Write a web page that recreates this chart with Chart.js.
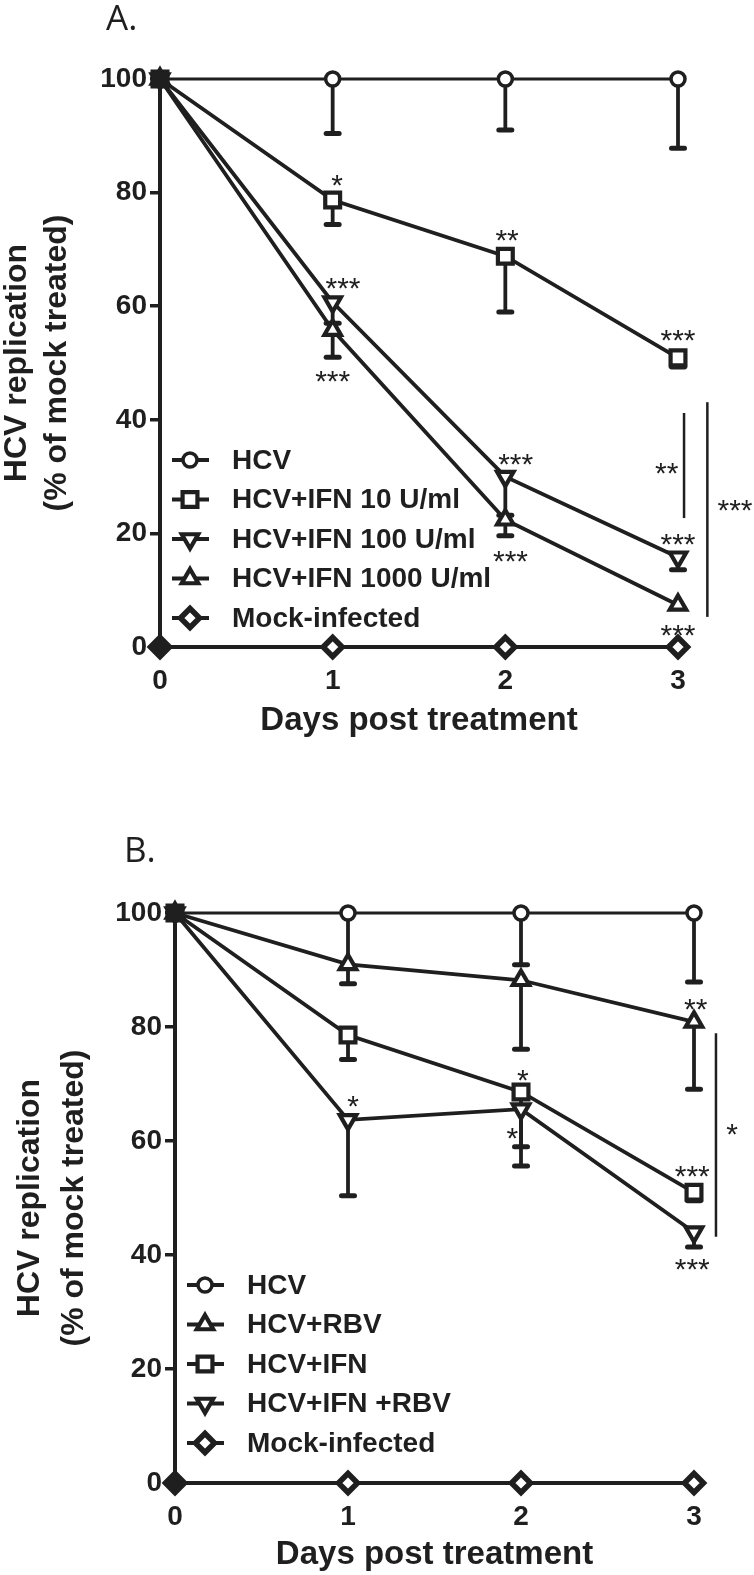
<!DOCTYPE html>
<html><head><meta charset="utf-8">
<script src="https://cdn.jsdelivr.net/npm/chart.js@4.4.1/dist/chart.umd.min.js"></script>
<style>
html,body{margin:0;padding:0;background:#fff;}
body{width:754px;height:1575px;position:relative;overflow:hidden;}
.panel{position:absolute;left:0;width:754px;}
#pa{top:0;height:780px;}
#pb{top:780px;height:795px;}
</style></head><body>
<div class="panel" id="pa"><canvas id="ca"></canvas></div>
<div class="panel" id="pb"><canvas id="cb"></canvas></div>
<script>
// ---------------- DATA ----------------
const days = [0, 1, 2, 3];

// Panel A
const aLabels = ['HCV', 'HCV+IFN 10 U/ml', 'HCV+IFN 100 U/ml', 'HCV+IFN 1000 U/ml', 'Mock-infected'];
const aHCV        = [100, 100, 100, 100];
const aHCVErr     = [null, 90.4, 91.0, 87.8];
const aIFN10      = [100, 78.7, 68.8, 50.9];
const aIFN10Err   = [null, 74.4, 59.0, 49.3];
const aIFN100     = [100, 60.7, 30.0, 15.8];
const aIFN100Err  = [null, 57.0, 23.2, 13.6];
const aIFN1000    = [100, 55.8, 22.4, 7.4];
const aIFN1000Err = [null, 51.0, 19.6, null];
const aMock       = [0, 0, 0, 0];
// significance marks: [day, value, text]
const aStars = [
  [1.025, 82.6, '*'], [1.06, 64.6, '***'], [1.0, 48.2, '***'],
  [2.01, 72.9, '**'], [2.06, 33.5, '***'], [2.03, 16.4, '***'],
  [3.0, 55.3, '***'], [3.0, 19.4, '***'], [3.0, 3.5, '***'],
  [2.935, 32.0, '**'], [3.33, 25.4, '***']
];
// comparison bars: [day, from, to]
const aBrackets = [[3.035, 41.2, 22.7], [3.17, 43.1, 5.3]];

// Panel B
const bLabels = ['HCV', 'HCV+RBV', 'HCV+IFN', 'HCV+IFN +RBV', 'Mock-infected'];
const bHCV       = [100, 100, 100, 100];
const bHCVErr    = [null, 90.3, 90.9, 87.9];
const bRBV       = [100, 91.0, 88.2, 80.9];
const bRBVErr    = [null, 87.6, 76.1, 69.1];
const bIFN       = [100, 78.6, 68.6, 51.0];
const bIFNErr    = [null, 74.3, 59.0, 49.5];
const bIFNRBV    = [100, 63.7, 65.6, 44.0];
const bIFNRBVErr = [null, 50.4, 55.6, 41.4];
const bMock      = [0, 0, 0, 0];
const bStars = [
  [1.03, 67.5, '*'], [2.01, 72.1, '*'], [1.95, 61.9, '*'],
  [3.01, 84.4, '**'], [2.99, 55.1, '***'], [2.99, 38.8, '***'],
  [3.22, 62.5, '*']
];
const bBrackets = [[3.127, 78.9, 43.2]];

const xTitle = 'Days post treatment';
const yTitle = ['HCV replication', '(% of mock treated)'];

// ---------------- STYLE ----------------
const INK = '#1f1f1f';
const FONT = "'Liberation Sans', Arial, Helvetica, sans-serif";
const MK = {
  circle:  {style: 'circle',   rot: 0,   r: 7,    bw: 3.5},
  square:  {style: 'rect',     rot: 0,   r: 10.5, bw: 4.2},
  up:      {style: 'triangle', rot: 0,   r: 9.5,  bw: 4.2},
  down:    {style: 'triangle', rot: 180, r: 9.5,  bw: 4.2},
  diamond: {style: 'rectRot',  rot: 0,   r: 9.5,  bw: 5.5}
};

function drawMarker(ctx, m, x, y, fill) {
  ctx.save();
  ctx.fillStyle = fill; ctx.strokeStyle = INK; ctx.lineWidth = m.bw;
  Chart.helpers.drawPoint(ctx, {pointStyle: m.style, rotation: m.rot, radius: m.r, borderWidth: m.bw}, x, y);
  ctx.restore();
}

const errBarPlugin = {
  id: 'errbars',
  beforeDatasetsDraw(chart) {
    const ctx = chart.ctx, ys = chart.scales.y;
    chart.data.datasets.forEach((ds, i) => {
      if (!ds.errLow) return;
      const meta = chart.getDatasetMeta(i);
      ds.errLow.forEach((lo, j) => {
        if (lo == null) return;
        const pt = meta.data[j];
        const yl = ys.getPixelForValue(lo);
        ctx.save();
        ctx.strokeStyle = INK;
        ctx.lineWidth = 3.8;
        ctx.beginPath(); ctx.moveTo(pt.x, pt.y); ctx.lineTo(pt.x, yl); ctx.stroke();
        ctx.lineWidth = 5; ctx.lineCap = 'round';
        ctx.beginPath(); ctx.moveTo(pt.x - 6.5, yl); ctx.lineTo(pt.x + 6.5, yl); ctx.stroke();
        ctx.restore();
      });
    });
  }
};

const decoPlugin = {
  id: 'deco',
  afterDatasetsDraw(chart, args, opts) {
    const ctx = chart.ctx, xs = chart.scales.x, ys = chart.scales.y, ca = chart.chartArea;
    ctx.save();
    // significance stars
    ctx.fillStyle = INK;
    ctx.font = '30px ' + FONT;
    ctx.textAlign = 'center';
    ctx.textBaseline = 'alphabetic';
    (opts.stars || []).forEach(s => {
      ctx.fillText(s[2], xs.getPixelForValue(s[0]), ys.getPixelForValue(s[1]) + 0.585 * 30);
    });
    // comparison bars
    ctx.strokeStyle = INK; ctx.lineWidth = 2.5;
    (opts.brackets || []).forEach(b => {
      const x = xs.getPixelForValue(b[0]);
      ctx.beginPath(); ctx.moveTo(x, ys.getPixelForValue(b[1])); ctx.lineTo(x, ys.getPixelForValue(b[2])); ctx.stroke();
    });
    // legend
    const lg = opts.legend;
    chart.data.datasets.forEach((ds, i) => {
      const cx = ca.left + lg.dx, cy = ca.top + lg.y0 + i * lg.step;
      ctx.strokeStyle = INK; ctx.lineWidth = 3.8;
      ctx.beginPath(); ctx.moveTo(cx - 18, cy); ctx.lineTo(cx + 19, cy); ctx.stroke();
      drawMarker(ctx, ds.mk, cx, cy, '#fff');
      ctx.fillStyle = INK;
      ctx.font = 'bold 28px ' + FONT;
      ctx.textAlign = 'left'; ctx.textBaseline = 'middle';
      ctx.fillText(ds.label, ca.left + lg.textDx, cy + 1);
    });
    // panel letter
    ctx.font = '35px "Open Sans", ' + FONT;
    ctx.textAlign = 'left'; ctx.textBaseline = 'alphabetic';
    ctx.fillText(opts.panel.text, opts.panel.x, opts.panel.y);
    ctx.restore();
  }
};

function buildChart(id, o) {
  const datasets = o.series.map(s => ({
    label: s.label,
    data: days.map((d, j) => ({x: d, y: s.values[j]})),
    errLow: s.err,
    mk: s.mk,
    borderColor: INK,
    borderWidth: s.lw,
    pointStyle: s.mk.style,
    pointRotation: s.mk.rot,
    pointRadius: s.mk.r,
    pointBorderWidth: s.mk.bw,
    pointBorderColor: INK,
    pointBackgroundColor: c => c.dataIndex === 0 ? INK : '#fff',
    tension: 0,
    clip: false,
    fill: false
  }));
  return new Chart(document.getElementById(id), {
    type: 'line',
    data: {datasets},
    plugins: [errBarPlugin, decoPlugin],
    options: {
      responsive: true, maintainAspectRatio: false, animation: false, events: [],
      layout: {padding: o.pad},
      plugins: {
        legend: {display: false}, tooltip: {enabled: false},
        deco: {stars: o.stars, brackets: o.brackets, legend: o.legend, panel: o.panel}
      },
      scales: {
        x: {
          type: 'linear', min: 0, max: 3, position: 'bottom',
          ticks: {stepSize: 1, padding: 17, color: INK, font: {family: FONT, size: 28, weight: 'bold'}},
          grid: {display: false, drawTicks: false},
          border: {display: true, color: INK, width: 4},
          title: {display: true, text: xTitle, color: INK, font: {family: FONT, size: 33, weight: 'bold'}, padding: {top: 0, bottom: 0}},
          afterFit: s => { s.height = o.xh; }
        },
        y: {
          min: 0, max: 100,
          ticks: {stepSize: 20, padding: 3, color: INK, font: {family: FONT, size: 28, weight: 'bold'}},
          grid: {drawOnChartArea: false, drawTicks: true, tickLength: 10, tickWidth: 3.5, tickColor: INK, color: INK, lineWidth: 3.5},
          border: {display: true, color: INK, width: 4},
          title: {display: true, text: yTitle, color: INK, font: {family: FONT, size: 32, weight: 'bold', lineHeight: o.ytLH}, padding: {top: o.ytPad, bottom: 0}},
          afterFit: s => { s.width = o.yw; }
        }
      }
    }
  });
}

buildChart('ca', {
  series: [
    {label: aLabels[0], values: aHCV, err: aHCVErr, mk: MK.circle, lw: 2.8},
    {label: aLabels[1], values: aIFN10, err: aIFN10Err, mk: MK.square, lw: 3.8},
    {label: aLabels[2], values: aIFN100, err: aIFN100Err, mk: MK.down, lw: 3.8},
    {label: aLabels[3], values: aIFN1000, err: aIFN1000Err, mk: MK.up, lw: 3.8},
    {label: aLabels[4], values: aMock, err: null, mk: MK.diamond, lw: 3.8}
  ],
  stars: aStars, brackets: aBrackets,
  pad: {top: 79, right: 76, bottom: 39, left: 0},
  xh: 94,
  yw: 160, ytPad: -3, ytLH: 1.25,
  legend: {dx: 30, y0: 381, step: 39.5, textDx: 72},
  panel: {text: 'A.', x: 106, y: 30}
});

buildChart('cb', {
  series: [
    {label: bLabels[0], values: bHCV, err: bHCVErr, mk: MK.circle, lw: 2.8},
    {label: bLabels[1], values: bRBV, err: bRBVErr, mk: MK.up, lw: 3.8},
    {label: bLabels[2], values: bIFN, err: bIFNErr, mk: MK.square, lw: 3.8},
    {label: bLabels[3], values: bIFNRBV, err: bIFNRBVErr, mk: MK.down, lw: 3.8},
    {label: bLabels[4], values: bMock, err: null, mk: MK.diamond, lw: 3.8}
  ],
  stars: bStars, brackets: bBrackets,
  pad: {top: 133, right: 60, bottom: 0, left: 0},
  xh: 92,
  yw: 175, ytPad: 9, ytLH: 1.35,
  legend: {dx: 30, y0: 372, step: 39.5, textDx: 72},
  panel: {text: 'B.', x: 124, y: 82}
});
</script>
</body></html>
